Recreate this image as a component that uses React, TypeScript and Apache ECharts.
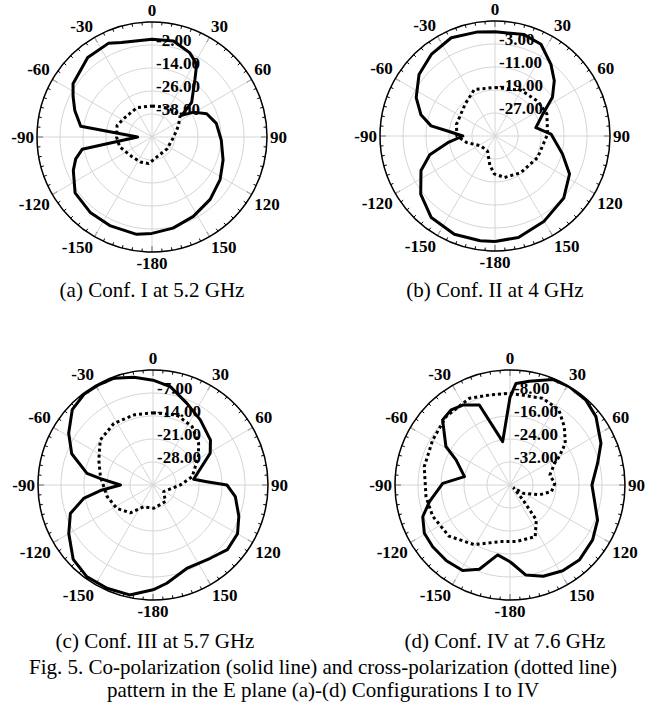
import React, { useEffect, useRef } from "react";
import * as echarts from "echarts";

// Angles in degrees, clockwise from boresight (0 at top); gains in dB.

// (a) Conf. I at 5.2 GHz
const confICoAngle = [-180, -171, -155, -141, -126, -113, -106, -100, -90, -81.5, -71, -63, -56, -39, -25, -18, 0, 12.6, 24, 31.5, 36.6, 48.8, 54, 59, 67, 78, 92.7, 108, 122, 137, 152.5, 167, 180];
const confICoGain = [0.3, 1.4, 1.2, 0.9, -0.4, -5.4, -8.6, -13, -42.5, -12.4, -7.4, -3.8, -0.3, 3.3, 3.9, 1.8, 1, 1.3, -1.8, -5.4, -12.4, -22.5, -30.8, -24.8, -19, -15.7, -13.8, -11, -8.1, -5.5, -3.3, -1.2, 0.3];
const confIXAngle = [0, 21, 36, 52.6, 67, 90, 128, 166, -173, -155, -133, -107, -90, -71.6, -53, -27, 0];
const confIXGain = [-33.8, -33.3, -32.5, -31.5, -35, -38.7, -40, -39.3, -36, -35.6, -35.3, -32.4, -31.5, -30.8, -32.7, -32.8, -33.8];

// (b) Conf. II at 4 GHz
const confIICoAngle = [-180, -172, -157.5, -142, -128, -115, -106, -98, -90, -84, -81, -74, -64, -51, -38, -24, -9.4, 0, 16, 26.6, 38, 47, 56, 65.6, 78.5, 88, 105, 117, 132, 150, 167, 180];
const confIICoGain = [1.7, 1.8, 2, 1, -2.2, -6.6, -11.4, -18.4, -23.8, -18.4, -12.5, -8.2, -4.5, -1, 1, 2.4, 1.7, 1.3, 1.7, 0.7, -3.4, -6.8, -10.9, -16.8, -20.5, -15.5, -10.7, -5.9, -2.8, -0.8, 1.2, 1.7];
const confIIXAngle = [0, 29.7, 51, 67, 88, 117, 145, 167, -179, -170, -154, -125, -103, -90, -73, -43, -24, 0];
const confIIXGain = [-18.1, -16.7, -15.8, -15.4, -16.7, -18.4, -19.4, -20.2, -21.8, -24.7, -29.1, -29, -24.9, -21.7, -21, -19.8, -17.3, -18.1];

// (c) Conf. III at 5.7 GHz
const confIIICoAngle = [-180, -168, -156, -144, -133, -120, -109, -101, -96, -90, -83, -80, -69, -58.5, -47, -37, -28.5, -20, -10, 0, 10, 22.6, 36, 52, 61, 82, 86.5, 90, 98, 110, 120, 131, 142, 158, 172, 180];
const confIIICoGain = [-3.1, -0.8, -0.6, -0.6, -1.8, -5.4, -8.4, -13.5, -18.9, -25.1, -18.9, -14.6, -8.5, -4.9, -1.4, -0.3, -0.3, -0.4, -1.7, -3.1, -4.6, -8.1, -10.5, -12.8, -15.1, -22.5, -18.6, -12.5, -9.7, -7.2, -5.3, -5, -6.7, -7.6, -4.8, -3.1];
const confIIIXAngle = [0, 19, 33.8, 47.6, 58, 78, 90, 122, 143, 178, -157, -141, -123, -104, -81, -65, -49.5, -32.5, -15, 0];
const confIIIXGain = [-13, -12.5, -13.6, -16.2, -18.7, -22.8, -26.7, -31.2, -28.7, -27.9, -27.8, -24.1, -21.9, -20.6, -18.8, -16.8, -13.9, -12.8, -12.9, -13];

// (d) Conf. IV at 7.6 GHz
const confIVCoAngle = [-180, -170, -160, -151, -140, -128.6, -119.4, -110, -101.7, -88.6, -79.6, -65, -59, -46, -38, -30.6, -21, -9.6, 0, 3.4, 10.5, 22, 31, 41.8, 51.5, 65.4, 76, 90, 100, 111.8, 123.6, 137, 148.4, 160, 170, 178, 180];
const confIVCoGain = [-13.3, -15.3, -8.8, -6, -5.6, -5.6, -5.8, -7.7, -11.4, -16.6, -23.9, -19.3, -14, -7.4, -6.8, -7.7, -10.2, -24.7, -9.5, -4.6, -3.3, -0.4, -0.1, -0.4, -1.8, -5.2, -8.6, -11.5, -10.2, -7.2, -5.5, -4.5, -5, -6.2, -8.2, -12.5, -13.3];
const confIVXAngle = [0, 20.6, 33, 43, 53, 60, 64, 76, 88, 99, 108, 122, 128, 139, 143, 154, 173.5, -170, -149, -130, -112, -98, -78, -60, -43, -25, -13, 0];
const confIVXGain = [-8.1, -7.8, -8.8, -12.3, -15.9, -20.2, -22.7, -25.7, -24.4, -25.4, -29.1, -34.6, -38.5, -33.1, -24.8, -20, -20.2, -20, -15.8, -12.3, -11, -10.5, -9.5, -8.9, -7.4, -6.7, -7.9, -8.1];

// Radial scale of each pattern: lowest level (centre) and ring step, in dB
const radialMin = [-50, -35, -35, -40];
const radialStep = [12, 8, 7, 8];

const panelCaptions = [
  "(a) Conf. I at 5.2 GHz",
  "(b) Conf. II at 4 GHz",
  "(c) Conf. III at 5.7 GHz",
  "(d) Conf. IV at 7.6 GHz",
];
const figureCaption = [
  "Fig. 5. Co-polarization (solid line) and cross-polarization (dotted line)",
  "pattern in the E plane (a)-(d) Configurations I to IV",
];

const coAngles = [confICoAngle, confIICoAngle, confIIICoAngle, confIVCoAngle];
const coGains = [confICoGain, confIICoGain, confIIICoGain, confIVCoGain];
const xAngles = [confIXAngle, confIIXAngle, confIIIXAngle, confIVXAngle];
const xGains = [confIXGain, confIIXGain, confIIIXGain, confIVXGain];

// Layout
const CENTERS: [number, number][] = [
  [152, 137],
  [495, 136],
  [153, 485],
  [510, 485],
];
const RADIUS = 115;
const CAPTION_POS: [number, number][] = [
  [152, 290],
  [495, 290],
  [155, 641],
  [505, 641],
];
const FIG_CAPTION_Y = [667, 690];
const SERIF = "Liberation Serif, Times New Roman, serif";
const GRID = "#d6d6d6";

const toPolar = (angles: number[], gains: number[]) =>
  angles.map((a, i) => [gains[i], a < 0 ? a + 360 : a]);

function angleLabel(v: number) {
  if (v === 360) return "";
  if (v === 180) return "-180";
  return String(v > 180 ? v - 360 : v);
}

function buildOption() {
  const polar = CENTERS.map((c) => ({ center: c, radius: [0, RADIUS] }));
  const angleAxis = CENTERS.map((_, i) => ({
    polarIndex: i,
    type: "value",
    min: 0,
    max: 360,
    interval: 30,
    startAngle: 90,
    clockwise: true,
    axisLine: { show: true, lineStyle: { color: "#000", width: 1.5 } },
    axisTick: { show: true, inside: true, length: 6, lineStyle: { color: "#000", width: 1 } },
    minorTick: { show: true, splitNumber: 6, length: 3, lineStyle: { color: "#000", width: 1 } },
    splitLine: { show: true, lineStyle: { color: GRID, width: 1 } },
    axisLabel: {
      show: true,
      margin: 3,
      formatter: angleLabel,
      color: "#000",
      fontFamily: SERIF,
      fontWeight: "bold",
      fontSize: 17,
    },
  }));
  const radiusAxis = radialMin.map((mn, i) => {
    const step = radialStep[i];
    const mx = mn + 5 * step;
    return {
      polarIndex: i,
      type: "value",
      min: mn,
      max: mx,
      interval: step,
      axisLine: { show: false },
      axisTick: { show: false },
      splitLine: { show: true, lineStyle: { color: GRID, width: 1 } },
      axisLabel: {
        show: true,
        margin: -4,
        align: "left",
        verticalAlign: "bottom",
        lineHeight: 9,
        formatter: (v: number) => (v <= mn || v >= mx ? "" : v.toFixed(2)),
        color: "#000",
        fontFamily: SERIF,
        fontWeight: "bold",
        fontSize: 17,
      },
    };
  });
  const series: any[] = [];
  for (let i = 0; i < 4; i++) {
    series.push({
      type: "line",
      coordinateSystem: "polar",
      polarIndex: i,
      data: toPolar(coAngles[i], coGains[i]),
      symbol: "none",
      silent: true,
      z: 4,
      lineStyle: { color: "#000", width: 3, join: "round" },
    });
    series.push({
      type: "line",
      coordinateSystem: "polar",
      polarIndex: i,
      data: toPolar(xAngles[i], xGains[i]),
      symbol: "none",
      silent: true,
      z: 3,
      lineStyle: { color: "#000", width: 3, type: [3, 3] },
    });
  }
  const textStyle = (t: string) => ({
    text: t,
    fill: "#000",
    fontFamily: SERIF,
    fontSize: 21,
    align: "center",
    verticalAlign: "middle",
  });
  const graphic: any[] = panelCaptions.map((t, i) => ({
    type: "text",
    x: CAPTION_POS[i][0],
    y: CAPTION_POS[i][1],
    style: textStyle(t),
  }));
  figureCaption.forEach((t, k) => {
    graphic.push({ type: "text", x: 323, y: FIG_CAPTION_Y[k], style: textStyle(t) });
  });
  return {
    animation: false,
    backgroundColor: "#fff",
    textStyle: { fontFamily: SERIF },
    polar,
    angleAxis,
    radiusAxis,
    series,
    graphic,
  };
}

export default function App() {
  const ref = useRef<HTMLDivElement>(null);
  useEffect(() => {
    if (!ref.current) return;
    const chart = echarts.init(ref.current, undefined, { renderer: "svg" });
    chart.setOption(buildOption() as any);
    return () => chart.dispose();
  }, []);
  return (
    <div
      ref={ref}
      style={{ position: "fixed", left: 0, top: 0, width: 646, height: 708, background: "#fff" }}
    />
  );
}
